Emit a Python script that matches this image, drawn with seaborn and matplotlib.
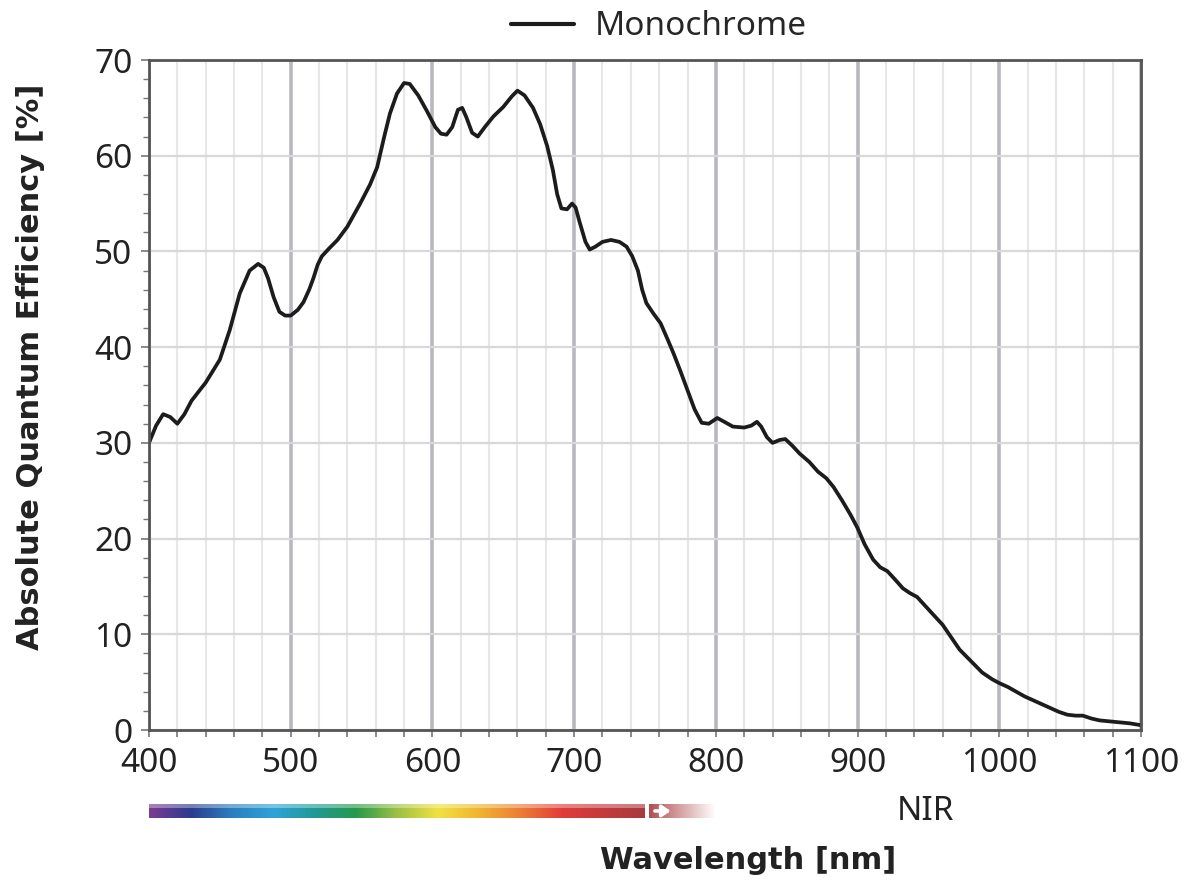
import numpy as np
import pandas as pd
import matplotlib
matplotlib.use("Agg")
import matplotlib.pyplot as plt
from matplotlib import font_manager
from matplotlib.colors import LinearSegmentedColormap, to_rgb
import seaborn as sns

# quantum efficiency curve
wavelength = [400, 405, 410, 415, 420, 425, 430, 440, 450, 457, 464, 471, 477, 481, 484,
              488, 492, 496, 500, 505, 509, 513, 516, 519, 522, 527, 533, 540, 549, 556,
              561, 566, 570, 575, 580, 584, 590, 596, 602, 606, 610, 614, 618, 621, 624,
              628, 632, 637, 643, 650, 656, 660, 665, 671, 676, 681, 685, 688, 691, 695,
              698.5, 701, 704, 708, 711, 715, 720, 726, 732, 737, 741, 745, 748, 751, 756,
              761, 766, 770, 775, 780, 785, 790, 795, 801, 806, 812, 820, 825, 829, 832,
              836, 840, 845, 849, 854, 859, 866, 872, 878, 883, 889, 895, 900, 905, 911,
              916, 921, 926, 932, 937, 942, 950, 955, 960, 966, 972, 980, 988, 995, 1000,
              1006, 1012, 1018, 1024, 1030, 1036, 1042, 1048, 1054, 1059, 1065, 1071, 1078,
              1085, 1092, 1100]
efficiency = [30.0, 31.8, 33.0, 32.7, 32.0, 33.0, 34.4, 36.3, 38.7, 41.8, 45.6, 48.0, 48.7, 48.3, 47.2,
              45.2, 43.7, 43.3, 43.3, 43.9, 44.7, 46.0, 47.2, 48.6, 49.5, 50.3, 51.2, 52.6, 55.0, 57.0,
              58.8, 62.0, 64.4, 66.5, 67.6, 67.5, 66.3, 64.7, 63.0, 62.3, 62.2, 63.0, 64.8, 65.0, 64.0,
              62.4, 62.0, 63.0, 64.1, 65.1, 66.2, 66.8, 66.3, 65.0, 63.3, 61.0, 58.5, 56.0, 54.5, 54.4,
              55.0, 54.6, 53.0, 51.0, 50.2, 50.5, 51.0, 51.2, 51.0, 50.5, 49.5, 48.0, 46.0, 44.6, 43.5,
              42.5, 40.8, 39.4, 37.5, 35.5, 33.5, 32.1, 32.0, 32.6, 32.2, 31.7, 31.6, 31.8, 32.2, 31.7,
              30.6, 30.0, 30.3, 30.4, 29.7, 28.9, 28.0, 27.0, 26.3, 25.4, 24.0, 22.5, 21.1, 19.4, 17.8,
              17.0, 16.6, 15.8, 14.8, 14.3, 13.9, 12.6, 11.8, 11.0, 9.7, 8.4, 7.2, 6.0, 5.3, 4.9,
              4.5, 4.0, 3.5, 3.1, 2.7, 2.3, 1.9, 1.6, 1.5, 1.5, 1.2, 1.0, 0.9,
              0.8, 0.7, 0.5]

x_ticks = [400, 500, 600, 700, 800, 900, 1000, 1100]
y_ticks = [0, 10, 20, 30, 40, 50, 60, 70]

# visible spectrum strip: solid part, then the faded NIR arrow
visible_range = (400, 750)
fade_range = (753, 800)
spectrum_colors = ["#7b3c92", "#2c3c8e", "#2a7fc0", "#2ea3d8", "#1f9a96", "#25994a",
                   "#9cc046", "#f1e23e", "#f0b431", "#ec7d35", "#e13c3a", "#c43a3c", "#a83b3d"]

df = pd.DataFrame({"wavelength": wavelength, "efficiency": efficiency})

sns.set_style("white")
plt.rcParams["font.family"] = ["Noto Sans", "DejaVu Sans"]

names = {f.name for f in font_manager.fontManager.ttflist}
if "Liberation Sans Narrow" in names:
    bold_family, bold_size = "Liberation Sans Narrow", 31
else:
    bold_family, bold_size = "DejaVu Sans", 22

fig = plt.figure(figsize=(11.92, 8.84), dpi=100)
ax = fig.add_axes([0.125, 0.1742, 0.8322, 0.7579])

sns.lineplot(data=df, x="wavelength", y="efficiency", ax=ax, color="#1c1c1c",
             lw=2.7, label="Monochrome", sort=False, errorbar=None,
             solid_joinstyle="round", solid_capstyle="round")

ax.set_xlim(400, 1100)
ax.set_ylim(0, 70)
ax.set_xticks(x_ticks)
ax.set_xticks(np.arange(400, 1101, 20), minor=True)
ax.set_yticks(y_ticks)
ax.set_yticks(np.arange(0, 71, 2), minor=True)

ax.grid(which="minor", axis="x", color="#e7e7e9", lw=1.5)
ax.grid(which="major", axis="x", color="#b8b8be", lw=2.6)
ax.grid(which="major", axis="y", color="#d8d8da", lw=1.6)
ax.set_axisbelow(True)

for s in ax.spines.values():
    s.set_color("#555555")
    s.set_linewidth(2)
    s.set_visible(True)

ax.tick_params(axis="both", which="both", direction="out", color="#777777",
               labelsize=24, labelcolor="#222222")
ax.tick_params(axis="x", which="both", length=5, width=1.2, pad=7)
ax.tick_params(axis="y", which="major", length=6, width=1.2, pad=6)
ax.tick_params(axis="y", which="minor", length=4, width=1.0)
ax.tick_params(left=True, bottom=True, which="both")
ax.set_xlabel("")
ax.set_ylabel("")

leg = ax.legend(loc="lower center", bbox_to_anchor=(0.514, 1.0), frameon=False,
                fontsize=24, handlelength=1.9, handletextpad=0.6, borderaxespad=0.1)
for h in leg.get_lines():
    h.set_linewidth(3)

fig.text(0.026, 0.585, "Absolute Quantum Efficiency [%]", rotation=90, ha="center",
         va="center", fontsize=bold_size, fontweight="bold", family=bold_family,
         color="#222222")
fig.text(0.6275, 0.027, "Wavelength [nm]", ha="center", va="center",
         fontsize=bold_size, fontweight="bold", family=bold_family, color="#222222")

# spectrum strip below the axis
bx = fig.add_axes([0.125, 0.0747, 0.8322, 0.0158])
cmap = LinearSegmentedColormap.from_list("spectrum", spectrum_colors)
grad = np.linspace(0, 1, 512).reshape(1, -1)
bx.imshow(grad, aspect="auto", cmap=cmap, extent=[visible_range[0], visible_range[1], 0, 1])
bx.fill_between(visible_range, 0.7, 1.0, color="white", alpha=0.35, lw=0)
fade = np.zeros((1, 64, 4))
fade[..., :3] = to_rgb("#a83b3d")
fade[..., 3] = np.linspace(0.9, 0.0, 64)
bx.imshow(fade, aspect="auto", extent=[fade_range[0], fade_range[1], 0, 1])
bx.annotate("", xy=(770, 0.5), xytext=(755, 0.5),
            arrowprops=dict(arrowstyle="-|>,head_width=0.35,head_length=0.5",
                            color="white", lw=2.5))
bx.text(948, 0.45, "NIR", ha="center", va="center", fontsize=24, color="#222222")
bx.set_xlim(400, 1100)
bx.set_ylim(0, 1)
bx.axis("off")

fig.savefig("out.png", dpi=100)
